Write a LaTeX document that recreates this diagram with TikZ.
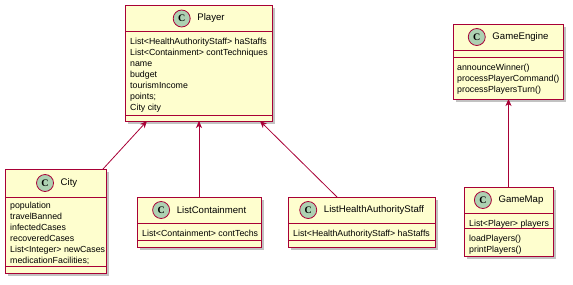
\documentclass[tikz,border=0pt]{standalone}
\usepackage{fontspec}
\setmainfont{Liberation Sans}
\newfontfamily\badgefont{Liberation Serif}
\usetikzlibrary{arrows.meta,positioning,shadows}
\definecolor{umlred}{HTML}{A80036}
\definecolor{umlfill}{HTML}{FEFECE}
\definecolor{umlbadge}{HTML}{ADD1B2}

\begin{document}
\begin{tikzpicture}[x=1pt, y=-1pt,
	classbox/.style={draw=umlred, fill=umlfill, line width=1pt, anchor=north west, inner sep=0pt, outer sep=0pt,
		drop shadow={shadow xshift=3pt, shadow yshift=-3pt, fill=black!40, opacity=0.6}},
	badge/.style={circle, draw=umlred, fill=umlbadge, line width=0.8pt, minimum size=17pt, inner sep=0pt, outer sep=0pt,
		font=\badgefont\bfseries\fontsize{10}{10}\selectfont},
	classname/.style={inner sep=0pt, font=\fontsize{9.6}{11}\selectfont},
	members/.style={anchor=north west, align=left, inner sep=0pt, font=\fontsize{8.8}{11}\selectfont},
	sepline/.style={draw=umlred, line width=1pt},
	assoc/.style={draw=umlred, line width=0.8pt, -{Stealth[length=7pt, width=6pt, inset=2pt]}}]
				\useasboundingbox (0,0) rectangle (573,284);
				% Class boxes:
				\node[classbox, minimum width=147pt, minimum height=116pt] (player) at (125, 5){};
				\node[classbox, minimum width=101pt, minimum height=104pt] (city) at (5, 169){};
				\node[classbox, minimum width=124pt, minimum height=50pt] (listcont) at (137, 197){};
				\node[classbox, minimum width=147pt, minimum height=50pt] (listhas) at (288, 197){};
				\node[classbox, minimum width=110pt, minimum height=75pt] (engine) at (453, 24){};
				\node[classbox, minimum width=89pt, minimum height=69pt] (gamemap) at (464, 187){};
				% Headers:
				\node[classname] (player-name) at (211, 18.5){Player};
				\node[badge, left=7pt of player-name] (player-c){C};
				\node[classname] (city-name) at (69, 183){City};
				\node[badge, left=7pt of city-name] (city-c){C};
				\node[classname] (listcont-name) at (211.5, 210){ListContainment};
				\node[badge, left=7pt of listcont-name] (listcont-c){C};
				\node[classname] (listhas-name) at (374, 210){ListHealthAuthorityStaff};
				\node[badge, left=7pt of listhas-name] (listhas-c){C};
				\node[classname] (engine-name) at (520.5, 37){GameEngine};
				\node[badge, left=7pt of engine-name] (engine-c){C};
				\node[classname] (gamemap-name) at (521, 200){GameMap};
				\node[badge, left=7pt of gamemap-name] (gamemap-c){C};
				% Compartment lines:
				\draw[sepline] ([yshift=-26pt]player.north west) -- ([yshift=-26pt]player.north east);
				\draw[sepline] ([yshift=-110pt]player.north west) -- ([yshift=-110pt]player.north east);
				\draw[sepline] ([yshift=-28pt]city.north west) -- ([yshift=-28pt]city.north east);
				\draw[sepline] ([yshift=-97pt]city.north west) -- ([yshift=-97pt]city.north east);
				\draw[sepline] ([yshift=-26pt]listcont.north west) -- ([yshift=-26pt]listcont.north east);
				\draw[sepline] ([yshift=-43pt]listcont.north west) -- ([yshift=-43pt]listcont.north east);
				\draw[sepline] ([yshift=-26pt]listhas.north west) -- ([yshift=-26pt]listhas.north east);
				\draw[sepline] ([yshift=-43pt]listhas.north west) -- ([yshift=-43pt]listhas.north east);
				\draw[sepline] ([yshift=-26pt]engine.north west) -- ([yshift=-26pt]engine.north east);
				\draw[sepline] ([yshift=-33pt]engine.north west) -- ([yshift=-33pt]engine.north east);
				\draw[sepline] ([yshift=-26pt]gamemap.north west) -- ([yshift=-26pt]gamemap.north east);
				\draw[sepline] ([yshift=-41pt]gamemap.north west) -- ([yshift=-41pt]gamemap.north east);
				% Fields and methods:
				\node[members] (player-attrs) at ([xshift=5pt, yshift=-32.5pt]player.north west){List<HealthAuthorityStaff> haStaffs\\List<Containment> contTechniques\\name\\budget\\tourismIncome\\points;\\City city};
				\node[members] (city-attrs) at ([xshift=5pt, yshift=-33pt]city.north west){population\\travelBanned\\infectedCases\\recoveredCases\\List<Integer> newCases\\medicationFacilities;};
				\node[members] (listcont-attrs) at ([xshift=5pt, yshift=-32.5pt]listcont.north west){List<Containment> contTechs};
				\node[members] (listhas-attrs) at ([xshift=5pt, yshift=-32.5pt]listhas.north west){List<HealthAuthorityStaff> haStaffs};
				\node[members] (engine-ops) at ([xshift=4pt, yshift=-39.5pt]engine.north west){announceWinner()\\processPlayerCommand()\\processPlayersTurn()};
				\node[members] (gamemap-attrs) at ([xshift=5pt, yshift=-32.5pt]gamemap.north west){List<Player> players};
				\node[members] (gamemap-ops) at ([xshift=5pt, yshift=-47.5pt]gamemap.north west){loadPlayers()\\printPlayers()};
				% Associations:
				\draw[assoc] ([xshift=-3pt]city.north east) -- ([xshift=22pt]player.south west);
				\draw[assoc] (listcont.north) -- (listcont.north |- player.south);
				\draw[assoc] ([xshift=-24.5pt]listhas.north) -- ([xshift=-12pt]player.south east);
				\draw[assoc] (gamemap.north) -- (gamemap.north |- engine.south);
			\end{tikzpicture}
\end{document}
